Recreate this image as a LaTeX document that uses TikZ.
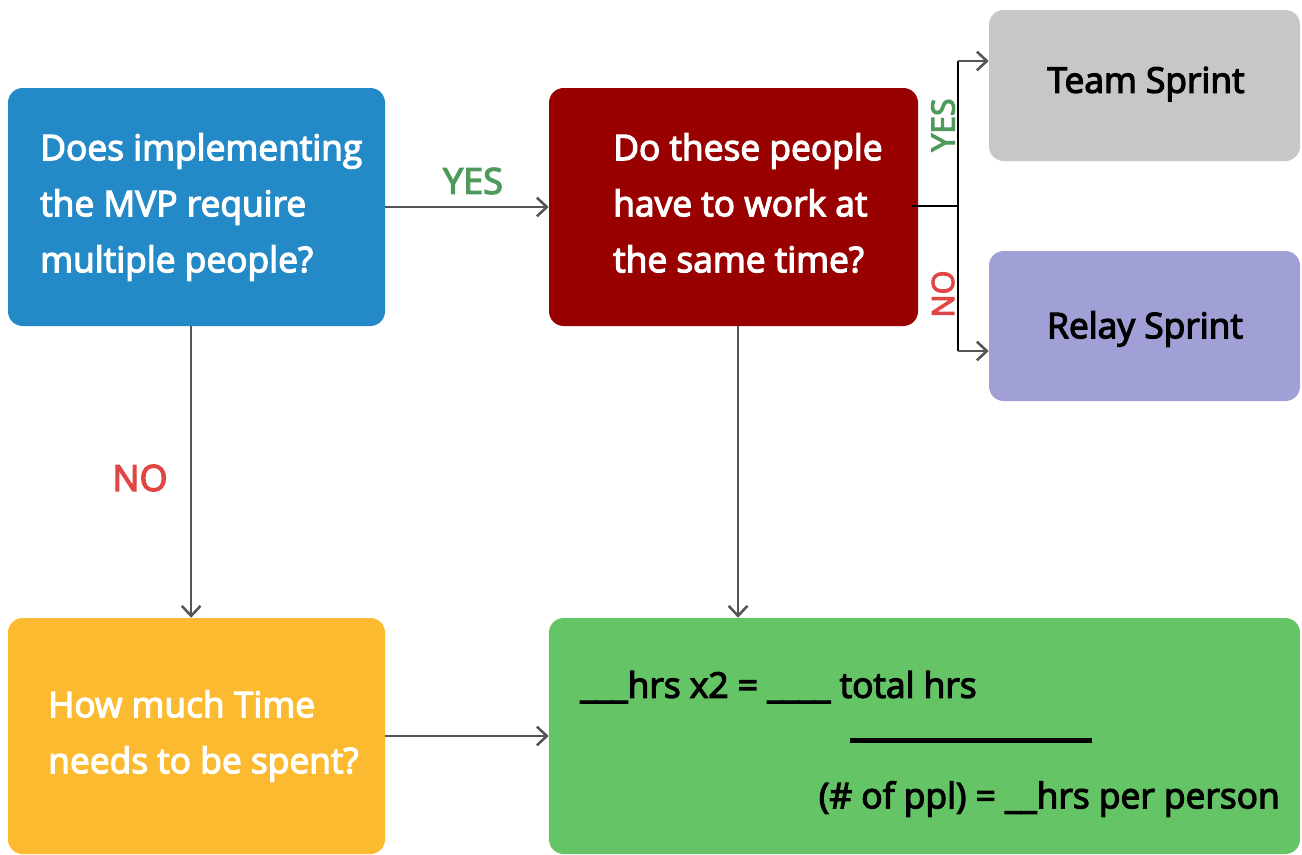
\documentclass[tikz,border=0pt]{standalone}
\usepackage{fontspec}
\setmainfont[FakeBold=3.5]{Open Sans}
\usetikzlibrary{arrows.meta}
\definecolor{cblue}{HTML}{2389C7}
\definecolor{cred}{HTML}{990000}
\definecolor{cgray}{HTML}{C7C7C8}
\definecolor{cpurple}{HTML}{A1A0D6}
\definecolor{cyellow}{HTML}{FBBA2F}
\definecolor{cgreen}{HTML}{65C466}
\definecolor{arrowgray}{HTML}{555555}
\definecolor{yesgreen}{HTML}{4E9A5A}
\definecolor{nored}{HTML}{E04644}
\begin{document}
\begin{tikzpicture}[x=0.75pt,y=-0.75pt,
  box/.style={rounded corners=11pt, inner sep=0pt, draw=none},
  qtext/.style={text=white, font=\fontsize{26.5}{42}\selectfont, align=left, anchor=west, inner sep=0pt},
  btext/.style={text=black, font=\fontsize{26.5}{30}\selectfont, inner sep=0pt},
  gtext/.style={text=black, font=\fontsize{26.5}{30}\selectfont, inner sep=0pt},
  conn/.style={draw=arrowgray, line width=1.9pt, -{Straight Barb[length=7.5pt,width=14pt,line width=1.9pt]}},
  blk/.style={draw=black, line width=2.2pt},
  yes/.style={text=yesgreen, font=\fontsize{27}{30}\selectfont, inner sep=0pt},
  no/.style={text=nored, font=\fontsize{27}{30}\selectfont, inner sep=0pt}
]
\useasboundingbox (0,0) rectangle (1302,854);
\begin{scope}
\clip (0,0) rectangle (1302,854);
% boxes
\node[box, fill=cblue, minimum width=282.75pt, minimum height=178.5pt] (blue) at (196.5,207) {};
\node[box, fill=cred, minimum width=276.75pt, minimum height=178.5pt] (red) at (733.5,207) {};
\node[box, fill=cgray, minimum width=233.25pt, minimum height=113.25pt] (team) at (1144.5,85.5) {};
\node[box, fill=cpurple, minimum width=233.25pt, minimum height=112.5pt] (relay) at (1144.5,326) {};
\node[box, fill=cyellow, minimum width=282.75pt, minimum height=177pt] (yellow) at (196.5,736) {};
\node[box, fill=cgreen, minimum width=563.25pt, minimum height=177pt] (green) at (924.5,736) {};
\end{scope}
% texts
\node[qtext] (tblue) at (40,207) {Does implementing\\the MVP require\\multiple people?};
\node[qtext] (tred) at (613,203) {Do these people\\have to work at\\the same time?};
\node[qtext] (tyellow) at (48,736) {How much Time\\needs to be spent?};
\node[btext] (tteam) at (1146,84) {Team Sprint};
\node[btext] (trelay) at (1145,329) {Relay Sprint};
\node[gtext, anchor=west] (g1) at (580,687) {\_\_\_hrs x2 = \_\_\_\_ total hrs};
\node[gtext, anchor=east] (g2) at (1280,799) {(\# of ppl) = \_\_hrs per person};
\draw[draw=black, line width=3.75pt] (850,740) -- (1092,740);
% connectors
\draw[conn] (blue) -- (red);
\draw[conn] ([xshift=-4pt]blue.south) -- ([xshift=-4pt]yellow.north);
\draw[conn] ([xshift=3.4pt]red.south) -- ([xshift=3.4pt]red.south |- green.north);
\draw[conn] (yellow) -- (green);
\coordinate (br) at (958,206);
\coordinate (ty) at (958,61);
\coordinate (ry) at (958,351);
\draw[blk] ([xshift=-4.5pt]red.east |- br) -- (br);
\draw[blk] (ty) -- (ry);
\draw[conn] (ty) -- (ty -| team.west);
\draw[conn] (ry) -- (ry -| relay.west);
% labels
\node[yes] (lyes) at (473,181) {YES};
\node[no] (lno) at (140,478) {NO};
\node[yes, rotate=90, font=\fontsize{24}{26}\selectfont] (lyes2) at (943,125) {YES};
\node[no, rotate=90, font=\fontsize{23}{26}\selectfont] (lno2) at (943,294) {NO};
\end{tikzpicture}
\end{document}
